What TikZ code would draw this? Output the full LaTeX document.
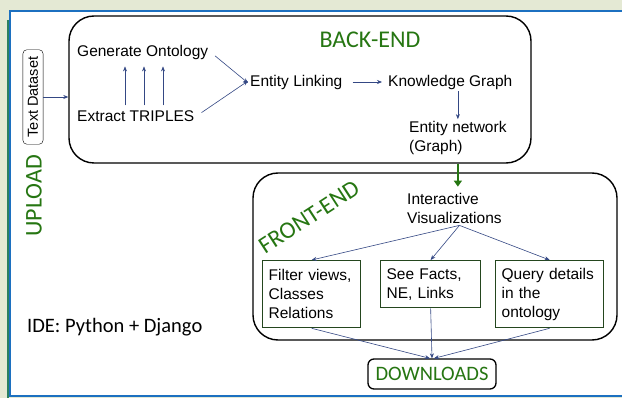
\documentclass[tikz,border=0pt]{standalone}
\usepackage{fontspec}
\setmainfont{Liberation Sans}
\newfontfamily\calibri{Carlito}
\usetikzlibrary{arrows.meta}

\definecolor{titlegreen}{RGB}{38,118,18}
\definecolor{boxgreen}{RGB}{36,70,30}
\definecolor{arrowblue}{RGB}{52,72,132}
\definecolor{frameblue}{RGB}{28,112,192}
\definecolor{shadowgreen}{RGB}{228,233,212}
\definecolor{stripegreen}{RGB}{44,128,96}

\begin{document}
\begin{tikzpicture}[x=1pt, y=-1pt,
        every node/.style={font=\fontsize{15.5}{19}\selectfont, align=left, inner sep=2pt},
        txt/.style={anchor=west},
        panel/.style={draw, line width=1.4pt, rounded corners=25pt},
        title/.style={text=titlegreen, font=\calibri\fontsize{24}{28}\selectfont},
        fbox/.style={draw=boxgreen, line width=1.3pt, inner xsep=6pt, anchor=north west},
        arr/.style={draw=arrowblue, line width=0.6pt, -{Stealth[length=5pt,width=4pt]}},
        grarr/.style={draw=titlegreen, line width=2.4pt, -{Triangle[length=6pt,width=8pt]}},
    ]
    \useasboundingbox (0,0) rectangle (622,398);
    \fill[shadowgreen] (0,0) rectangle (622,398);
    \fill[white] (10,11) rectangle (630,396);
    \draw[stripegreen, line width=2pt] (8,20) -- (8,398);
    \draw[frameblue, line width=2.6pt] (630,11) -- (10,11) -- (10,396) -- (630,396);

    \node[panel, minimum width=462pt, minimum height=147pt] (back) at (300,89.5) {};
    \node[panel, minimum width=364pt, minimum height=167pt] (front) at (435,256.5) {};

    \node[title] (backlbl) at (370,40) {BACK-END};
    \node[title, rotate=33] (frontlbl) at (309,217) {FRONT-END};
    \node[title, rotate=90] (upload) at (34,196) {UPLOAD};
    \node[anchor=west, font=\calibri\fontsize{20.5}{24}\selectfont] (ide) at (25,327) {IDE: Python + Django};

    \node[draw, rounded corners=4pt, rotate=90, inner xsep=7pt, inner ysep=5pt,
          font=\fontsize{14.5}{17}\selectfont] (data) at (33,97) {Text Dataset};

    \node[txt] (onto) at (75,52) {Generate Ontology};
    \node[txt] (triples) at (75,116) {Extract TRIPLES};
    \node[txt] (link) at (248,82) {Entity Linking};
    \node[txt] (kg) at (386,82) {Knowledge Graph};
    \node[txt] (net) at (407,138) {Entity network\\(Graph)};

    \node[txt] (vis) at (405,208) {Interactive\\Visualizations};
    \node[fbox, text width=86pt, minimum height=67pt] (filt) at (262,260) {Filter views,\\Classes\\Relations};
    \node[fbox, text width=88pt, minimum height=47pt] (facts) at (380,260) {See Facts,\\NE, Links};
    \node[fbox, text width=96pt, minimum height=67pt] (query) at (495,260) {Query details\\in the\\ontology};
    \node[draw, line width=1.3pt, rounded corners=6pt, minimum width=128pt, minimum height=30pt, text=titlegreen,
          font=\calibri\fontsize{20.5}{24}\selectfont] (down) at (432,374) {DOWNLOADS};

    \draw[arr] (data.south) -- (back.west |- data.south);
    \foreach \x in {125,144,163}
        \draw[arr, shorten <=3pt, shorten >=5pt] (triples.north -| \x,0) -- (onto.south -| \x,0);
    \draw[arr, shorten <=6pt] (onto.east) -- ([yshift=-1pt]link.west);
    \draw[arr, shorten <=6pt] (triples.east |- 0,116) -- ([yshift=1pt]link.west);
    \draw[arr, shorten <=8pt, shorten >=4pt] (link.east) -- (kg.west);
    \draw[arr] (kg.south -| net.north) -- (net.north);
    \draw[grarr] (back.south -| net.south) -- ([yshift=4pt]vis.north -| net.south);

    \draw[arr] ([xshift=5pt]vis.south) -- (filt.north);
    \draw[arr] ([xshift=5pt]vis.south) -- (facts.north);
    \draw[arr] ([xshift=5pt]vis.south) -- (query.north);
    \draw[arr] (filt.south) -- ([xshift=-2pt]down.north);
    \draw[arr] (facts.south) -- (down.north);
    \draw[arr] (query.south) -- ([xshift=2pt]down.north);
\end{tikzpicture}
\end{document}
